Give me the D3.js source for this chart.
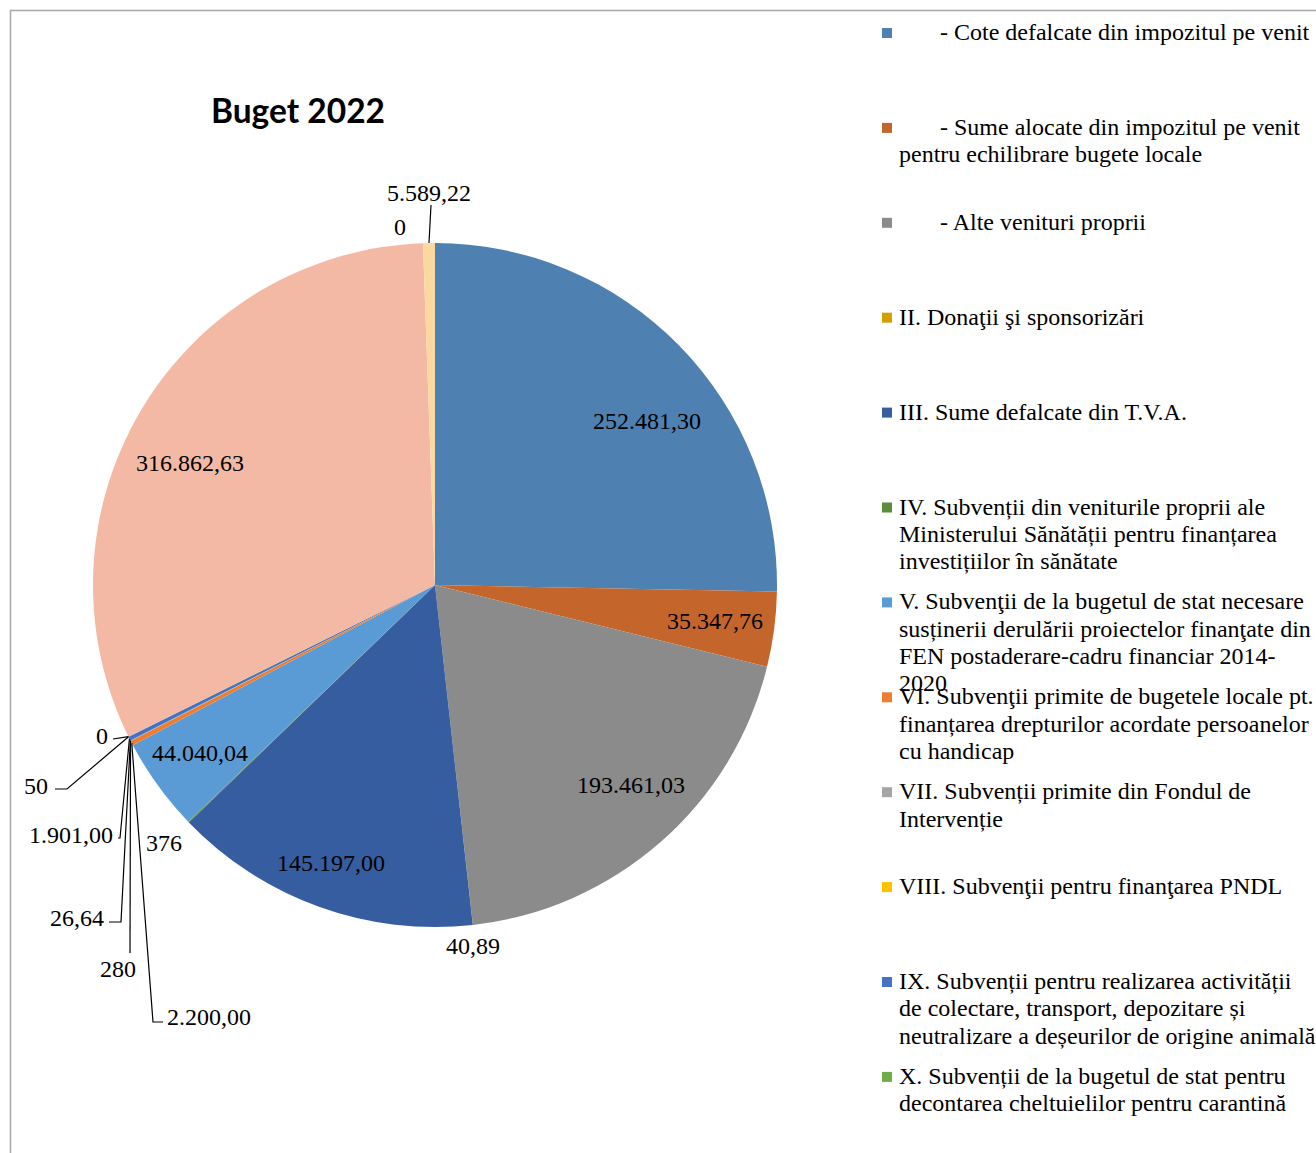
<!DOCTYPE html>
<html>
<head>
<meta charset="utf-8">
<script src="https://cdn.jsdelivr.net/npm/d3@7"></script>
<style>
  html, body { margin: 0; padding: 0; background: #fff; overflow: hidden; }
  svg { display: block; }
</style>
</head>
<body>
<svg id="chart" width="1316" height="1153"></svg>
<script>
// ---- data ----
const categories = [
  "\t- Cote defalcate din impozitul pe venit",
  "\t- Sume alocate din impozitul pe venit\npentru echilibrare bugete locale",
  "\t- Alte venituri proprii",
  "II. Donaţii şi sponsorizări",
  "III. Sume defalcate din T.V.A.",
  "IV. Subvenții din veniturile proprii ale\nMinisterului Sănătății pentru finanțarea\ninvestițiilor în sănătate",
  "V. Subvenţii de la bugetul de stat necesare\nsusținerii derulării proiectelor finanţate din\nFEN postaderare-cadru financiar 2014-\n2020",
  "VI. Subvenţii primite de bugetele locale pt.\nfinanțarea drepturilor acordate persoanelor\ncu handicap",
  "VII. Subvenții primite din Fondul de\nIntervenție",
  "VIII. Subvenţii pentru finanţarea PNDL",
  "IX. Subvenții pentru realizarea activității\nde colectare, transport, depozitare și\nneutralizare a deșeurilor de origine animală",
  "X. Subvenții de la bugetul de stat pentru\ndecontarea cheltuielilor pentru carantină",
  "XI.",
  "XII.",
  "XIII.",
  "XIV."
];
const values = [252481.30, 35347.76, 193461.03, 40.89, 145197.00, 376, 44040.04, 2200.00,
                280, 26.64, 1901.00, 50, 0, 316862.63, 0, 5589.22];
const valueLabels = ["252.481,30", "35.347,76", "193.461,03", "40,89", "145.197,00", "376",
                     "44.040,04", "2.200,00", "280", "26,64", "1.901,00", "50", "0",
                     "316.862,63", "0", "5.589,22"];
const colors = ["#4E80B2", "#C4652B", "#8B8B8B", "#D3A000", "#375DA1", "#5B8E3A",
                "#5B9BD5", "#ED7D31", "#A5A5A5", "#FFC000", "#4472C4", "#70AD47",
                "#264478", "#F3B9A4", "#636363", "#FCD8A1"];
const visibleLegendCount = 12;
const title = "Buget 2022";

// ---- layout (label placement relative to pie centre) ----
const cx = 435, cy = 585, R = 342;
const labelLayout = [
  {pos: [212, -164], anchor: "middle"},
  {pos: [280, 36], anchor: "middle"},
  {pos: [196, 200], anchor: "middle"},
  {pos: [38, 361], anchor: "middle"},
  {pos: [-104, 278], anchor: "middle"},
  {pos: [-271, 258], anchor: "middle"},
  {pos: [-235, 168], anchor: "middle"},
  {pos: [-268, 432], anchor: "start", leader: [[-282, 437], [-272, 437]]},
  {pos: [-317, 384], anchor: "middle", leader: [[-305, 368]]},
  {pos: [-331, 333], anchor: "end", leader: [[-314, 337], [-326, 337]]},
  {pos: [-322, 250], anchor: "end", leader: [[-315, 253], [-317, 253]]},
  {pos: [-387, 201], anchor: "end", leader: [[-368, 204], [-380, 204]]},
  {pos: [-327, 151], anchor: "end", leader: [[-322, 154]]},
  {pos: [-245, -122], anchor: "middle"},
  {pos: [-35, -358], anchor: "middle"},
  {pos: [-6, -392], anchor: "middle", leader: [[-4, -380]]}
];

const svg = d3.select("#chart");
const serif = "'Liberation Serif', 'Times New Roman', serif";

// frame
svg.append("path")
  .attr("d", "M10.5,1153 L10.5,10.5 L1316,10.5")
  .attr("fill", "none").attr("stroke", "#A6A6A6").attr("stroke-width", 1.5);

// title
svg.append("text")
  .attr("x", 298).attr("y", 123)
  .attr("text-anchor", "middle")
  .attr("font-family", "Lato, 'Open Sans', sans-serif")
  .attr("font-weight", "bold")
  .attr("font-size", 33.5)
  .attr("fill", "#000")
  .text(title);

// pie
const pie = d3.pie().sort(null).value(d => d)(values);
const arc = d3.arc().innerRadius(0).outerRadius(R);
const g = svg.append("g").attr("transform", `translate(${cx},${cy})`);

g.selectAll("path.slice")
  .data(pie)
  .join("path")
  .attr("class", "slice")
  .attr("d", arc)
  .attr("fill", (d, i) => colors[i]);

// leaders
const outerPoint = d => {
  const a = (d.startAngle + d.endAngle) / 2;
  return [R * Math.sin(a), -R * Math.cos(a)];
};
pie.forEach((d, i) => {
  const L = labelLayout[i];
  if (!L.leader) return;
  const pts = [outerPoint(d), ...L.leader];
  g.append("path")
    .attr("d", d3.line()(pts))
    .attr("fill", "none")
    .attr("stroke", "#000")
    .attr("stroke-width", 1.2);
});

// labels
g.selectAll("text.lbl")
  .data(pie)
  .join("text")
  .attr("class", "lbl")
  .attr("x", (d, i) => labelLayout[i].pos[0])
  .attr("y", (d, i) => labelLayout[i].pos[1])
  .attr("dy", "0.33em")
  .attr("text-anchor", (d, i) => labelLayout[i].anchor)
  .attr("font-family", serif)
  .attr("font-size", 24)
  .attr("fill", "#000")
  .text((d, i) => valueLabels[i]);

// legend
const legend = svg.append("g");
const legTop = 33, legStep = 94.9, lineH = 27.3;
categories.slice(0, visibleLegendCount).forEach((name, i) => {
  const y = legTop + i * legStep;
  legend.append("rect")
    .attr("x", 882).attr("y", y - 5)
    .attr("width", 10).attr("height", 10)
    .attr("fill", colors[i]);
  const tabbed = name.startsWith("\t");
  const lines = name.replace("\t", "").split("\n");
  lines.forEach((ln, j) => {
    legend.append("text")
      .attr("x", (j === 0 && tabbed) ? 940 : 899)
      .attr("y", y + j * lineH + 7)
      .attr("font-family", serif)
      .attr("font-size", 24)
      .attr("fill", "#000")
      .text(ln);
  });
});
</script>
</body>
</html>
